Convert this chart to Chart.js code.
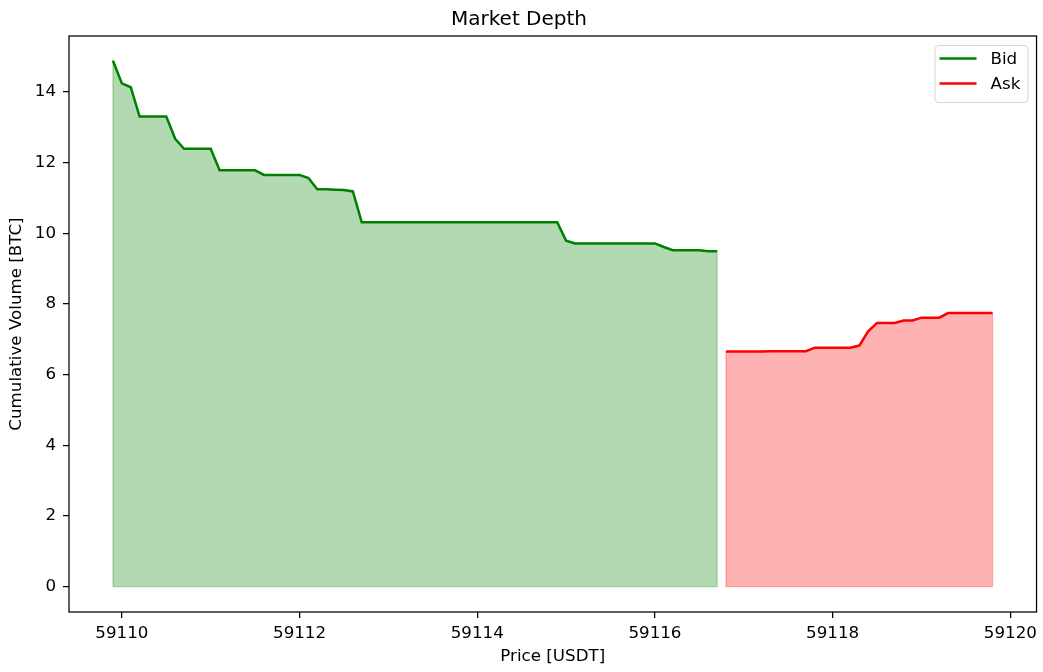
<!DOCTYPE html>
<html>
<head>
<meta charset="utf-8">
<title>Market Depth</title>
<script src="https://cdn.jsdelivr.net/npm/chart.js@4.4.1/dist/chart.umd.min.js"></script>
<style>
  html, body { margin: 0; padding: 0; background: #fff; }
  canvas { display: block; }
</style>
</head>
<body>
<canvas id="depthChart" width="1043" height="672"></canvas>
<script>
// order book, cumulative volume per price level
const bidPrices = [
  59109.9, 59110.0, 59110.1, 59110.2, 59110.3, 59110.4, 59110.5, 59110.6, 59110.7, 59110.8, 59110.9,
  59111.0, 59111.1, 59111.2, 59111.3, 59111.4, 59111.5, 59111.6, 59111.7, 59111.8, 59111.9,
  59112.0, 59112.1, 59112.2, 59112.3, 59112.4, 59112.5, 59112.6, 59112.7, 59112.8, 59112.9,
  59113.0, 59113.1, 59113.2, 59113.3, 59113.4, 59113.5, 59113.6, 59113.7, 59113.8, 59113.9,
  59114.0, 59114.1, 59114.2, 59114.3, 59114.4, 59114.5, 59114.6, 59114.7, 59114.8, 59114.9,
  59115.0, 59115.1, 59115.2, 59115.3, 59115.4, 59115.5, 59115.6, 59115.7, 59115.8, 59115.9,
  59116.0, 59116.1, 59116.2, 59116.3, 59116.4, 59116.5, 59116.6, 59116.7
];
const bidVolumes = [
  14.88, 14.24, 14.13, 13.30, 13.30, 13.30, 13.30, 12.67, 12.39, 12.39, 12.39,
  12.39, 11.78, 11.78, 11.78, 11.78, 11.78, 11.65, 11.65, 11.65, 11.65,
  11.65, 11.56, 11.24, 11.24, 11.23, 11.22, 11.18, 10.31, 10.31, 10.31,
  10.31, 10.31, 10.31, 10.31, 10.31, 10.31, 10.31, 10.31, 10.31, 10.31,
  10.31, 10.31, 10.31, 10.31, 10.31, 10.31, 10.31, 10.31, 10.31, 10.31,
  9.79, 9.71, 9.71, 9.71, 9.71, 9.71, 9.71, 9.71, 9.71, 9.71,
  9.71, 9.61, 9.52, 9.52, 9.52, 9.52, 9.49, 9.49
];
const askPrices = [
  59116.8, 59116.9,
  59117.0, 59117.1, 59117.2, 59117.3, 59117.4, 59117.5, 59117.6, 59117.7, 59117.8, 59117.9,
  59118.0, 59118.1, 59118.2, 59118.3, 59118.4, 59118.5, 59118.6, 59118.7, 59118.8, 59118.9,
  59119.0, 59119.1, 59119.2, 59119.3, 59119.4, 59119.5, 59119.6, 59119.7, 59119.8
];
const askVolumes = [
  6.65, 6.65,
  6.65, 6.65, 6.65, 6.66, 6.66, 6.66, 6.66, 6.66, 6.76, 6.76,
  6.76, 6.76, 6.76, 6.82, 7.22, 7.46, 7.46, 7.46, 7.53, 7.53,
  7.61, 7.61, 7.61, 7.74, 7.74, 7.74, 7.74, 7.74, 7.74
];
const xTicks = [59110, 59112, 59114, 59116, 59118, 59120];
const yTicks = [0, 2, 4, 6, 8, 10, 12, 14];

function toPoints(xs, ys) {
    return xs.map((x, i) => ({ x: x, y: ys[i] }));
}

const FONT = 'DejaVu Sans';

// faint outline round each filled area, like fill_between's edge
const fillEdges = {
    id: 'fillEdges',
    beforeDatasetsDraw(chart) {
        const ctx = chart.ctx;
        const xs = chart.scales.x, ys = chart.scales.y;
        const a = chart.chartArea;
        ctx.save();
        ctx.beginPath();
        ctx.rect(a.left, a.top, a.right - a.left, a.bottom - a.top);
        ctx.clip();
        chart.data.datasets.forEach(ds => {
            const pts = ds.data;
            const y0 = ys.getPixelForValue(0);
            ctx.beginPath();
            ctx.moveTo(xs.getPixelForValue(pts[0].x), y0);
            pts.forEach(p => ctx.lineTo(xs.getPixelForValue(p.x), ys.getPixelForValue(p.y)));
            ctx.lineTo(xs.getPixelForValue(pts[pts.length - 1].x), y0);
            ctx.closePath();
            ctx.strokeStyle = ds.backgroundColor;
            ctx.lineWidth = 1.3;
            ctx.stroke();
        });
        ctx.restore();
    }
};

// matplotlib style legend inside the axes, upper right
const insideLegend = {
    id: 'insideLegend',
    afterDraw(chart) {
        const ctx = chart.ctx;
        const area = chart.chartArea;
        const w = 93, h = 57;
        const x = area.right - 9 - w;
        const y = area.top + 9;
        ctx.save();
        ctx.beginPath();
        ctx.roundRect(x + 0.5, y + 0.5, w, h, 4);
        ctx.fillStyle = 'rgba(255,255,255,0.8)';
        ctx.fill();
        ctx.strokeStyle = '#d6d6d6';
        ctx.lineWidth = 1;
        ctx.stroke();
        chart.data.datasets.forEach((ds, i) => {
            const ly = y + 13.5 + i * 25;
            ctx.beginPath();
            ctx.moveTo(x + 5, ly);
            ctx.lineTo(x + 42, ly);
            ctx.strokeStyle = ds.borderColor;
            ctx.lineWidth = 2.5;
            ctx.stroke();
            ctx.fillStyle = '#000';
            ctx.font = '16.7px "' + FONT + '"';
            ctx.textBaseline = 'middle';
            ctx.textAlign = 'left';
            ctx.fillText(ds.label, x + 56, ly + 1);
        });
        ctx.restore();
    }
};

// full box round the plot
const frame = {
    id: 'frame',
    afterDraw(chart) {
        const ctx = chart.ctx;
        const a = chart.chartArea;
        ctx.save();
        ctx.strokeStyle = '#000';
        ctx.lineWidth = 1.25;
        ctx.strokeRect(a.left, a.top, a.right - a.left, a.bottom - a.top);
        ctx.restore();
    }
};

function myLoadFunction() {
    const ctx = document.getElementById('depthChart').getContext('2d');
    const config = {
        type: 'line',
        data: {
            datasets: [
                {
                    label: 'Bid',
                    data: toPoints(bidPrices, bidVolumes),
                    borderColor: '#008000',
                    backgroundColor: 'rgba(0,128,0,0.3)',
                    borderWidth: 2.5,
                    fill: 'origin',
                    pointRadius: 0,
                    tension: 0
                },
                {
                    label: 'Ask',
                    data: toPoints(askPrices, askVolumes),
                    borderColor: '#ff0000',
                    backgroundColor: 'rgba(255,0,0,0.3)',
                    borderWidth: 2.5,
                    fill: 'origin',
                    pointRadius: 0,
                    tension: 0
                }
            ]
        },
        options: {
            responsive: false,
            animation: false,
            layout: { padding: { left: 0, right: 5, top: 0, bottom: 0 } },
            plugins: {
                legend: { display: false },
                tooltip: { enabled: false },
                title: {
                    display: true,
                    text: 'Market Depth',
                    color: '#000',
                    font: { family: FONT, size: 20, weight: 'normal' },
                    padding: { top: 7.5, bottom: 4.5 }
                }
            },
            scales: {
                x: {
                    type: 'linear',
                    min: 59109.405,
                    max: 59120.295,
                    afterBuildTicks(scale) {
                        scale.ticks = xTicks.map(v => ({ value: v }));
                    },
                    afterFit(scale) { scale.height = 60; },
                    ticks: {
                        color: '#000',
                        font: { family: FONT, size: 16.7 },
                        padding: 6,
                        maxRotation: 0,
                        autoSkip: false,
                        callback: v => String(v)
                    },
                    grid: {
                        drawOnChartArea: false,
                        drawTicks: true,
                        tickLength: 6,
                        color: '#000',
                        lineWidth: 1.25
                    },
                    border: { display: false },
                    title: {
                        display: true,
                        text: 'Price [USDT]',
                        color: '#000',
                        font: { family: FONT, size: 16.7 },
                        padding: { top: 0, bottom: 5 }
                    }
                },
                y: {
                    min: -0.72,
                    max: 15.58,
                    afterBuildTicks(scale) {
                        scale.ticks = yTicks.map(v => ({ value: v }));
                    },
                    afterFit(scale) { scale.width = 69; },
                    ticks: {
                        color: '#000',
                        font: { family: FONT, size: 16.7 },
                        padding: 7,
                        autoSkip: false,
                        callback: v => String(v)
                    },
                    grid: {
                        drawOnChartArea: false,
                        drawTicks: true,
                        tickLength: 6,
                        color: '#000',
                        lineWidth: 1.25
                    },
                    border: { display: false },
                    title: {
                        display: true,
                        text: 'Cumulative Volume [BTC]',
                        color: '#000',
                        font: { family: FONT, size: 16.7 },
                        padding: { top: 7, bottom: 0 }
                    }
                }
            }
        },
        plugins: [fillEdges, frame, insideLegend]
    };
    const depthChart = new Chart(ctx, config);
}

document.addEventListener('DOMContentLoaded', myLoadFunction);
</script>
</body>
</html>
